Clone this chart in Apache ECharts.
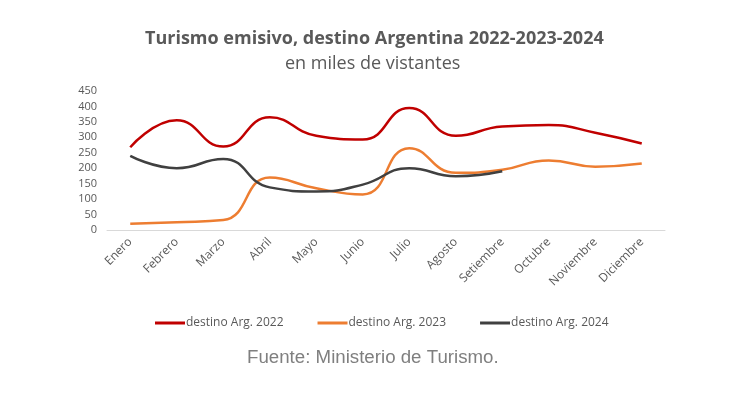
<!DOCTYPE html>
<html lang="es">
<head>
<meta charset="utf-8" />
<title>Turismo emisivo</title>
<script src="https://cdn.jsdelivr.net/npm/echarts@6/dist/echarts.min.js"></script>
<style>
  html, body { margin: 0; padding: 0; background: #fff; }
  #chart { width: 730px; height: 397px; }
</style>
</head>
<body>
<div id="chart"></div>
<script type="text/javascript">
// datos (miles de visitantes)
var meses = ['Enero', 'Febrero', 'Marzo', 'Abril', 'Mayo', 'Junio', 'Julio',
             'Agosto', 'Setiembre', 'Octubre', 'Noviembre', 'Diciembre'];
var arg2022 = [268, 355, 270, 365, 305, 293, 395, 305, 335, 340, 315, 280];
var arg2023 = [20, 25, 32, 170, 135, 115, 265, 185, 195, 225, 205, 215];
var arg2024 = [240, 200, 230, 138, 125, 147, 200, 174, 190];
var nombres = ['destino Arg. 2022', 'destino Arg. 2023', 'destino Arg. 2024'];
var colores = ['#C00000', '#ED7D31', '#404040'];

var chart = echarts.init(document.getElementById('chart'));

var gris = '#595959';
var fuente = '"Open Sans", "Noto Sans", sans-serif';

function serie(i, datos) {
  return {
    name: nombres[i],
    type: 'line',
    data: datos,
    smooth: 0.5,
    symbol: 'none',
    lineStyle: { width: 2.5, color: colores[i] },
    itemStyle: { color: colores[i] }
  };
}

var option = {
  animation: false,
  title: [
    {
      text: 'Turismo emisivo, destino Argentina 2022-2023-2024',
      left: 140,
      top: 25,
      padding: 5,
      textStyle: { fontFamily: fuente, fontSize: 18, fontWeight: 'bold', color: gris }
    },
    {
      text: 'en miles de vistantes',
      left: 280,
      top: 50,
      padding: 5,
      textStyle: { fontFamily: fuente, fontSize: 18, fontWeight: 'normal', color: gris }
    },
    {
      text: 'Fuente: Ministerio de Turismo.',
      left: 242,
      top: 343,
      padding: 5,
      textStyle: { fontFamily: '"Liberation Sans", Arial, sans-serif', fontSize: 18.7, fontWeight: 'normal', color: '#7f7f7f' }
    }
  ],
  legend: {
    data: nombres,
    top: 312,
    left: 150,
    padding: 5,
    icon: 'rect',
    itemWidth: 30,
    itemHeight: 3,
    itemGap: 34,
    textStyle: { fontFamily: fuente, fontSize: 12, color: gris, padding: [0, 0, 0, -4] }
  },
  grid: { left: 107, right: 65, top: 91, height: 139 },
  xAxis: {
    type: 'category',
    data: meses,
    boundaryGap: true,
    axisLine: { lineStyle: { color: '#d9d9d9', width: 1 } },
    axisTick: { show: false },
    axisLabel: { rotate: 45, color: gris, fontFamily: fuente, fontSize: 12, margin: 10, interval: 0 }
  },
  yAxis: {
    type: 'value',
    min: 0,
    max: 450,
    interval: 50,
    splitLine: { show: false },
    axisLine: { show: false },
    axisTick: { show: false },
    axisLabel: { color: gris, fontFamily: fuente, fontSize: 11, margin: 10 }
  },
  series: [
    serie(0, arg2022),
    serie(1, arg2023),
    serie(2, arg2024)
  ]
};

chart.setOption(option);
</script>
</body>
</html>
